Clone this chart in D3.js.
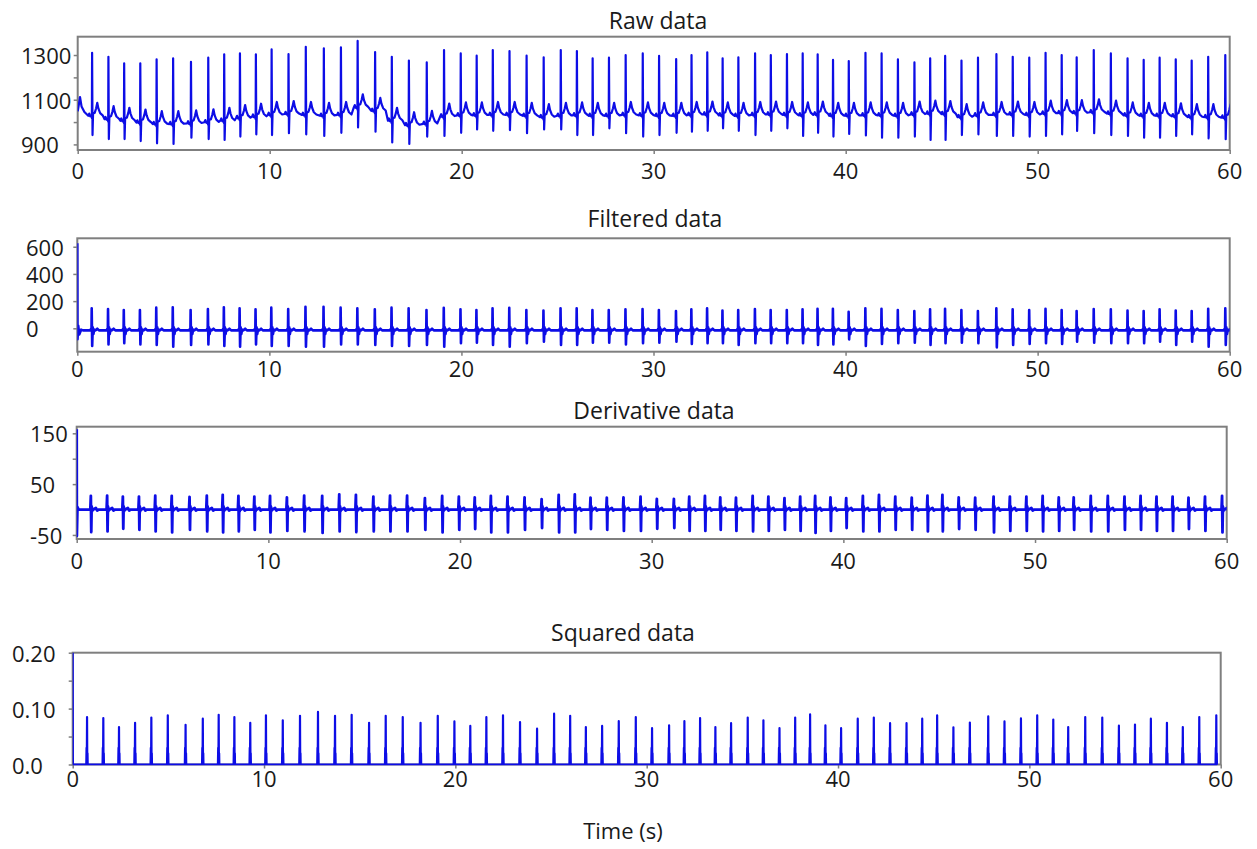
<!DOCTYPE html>
<html>
<head>
<meta charset="utf-8">
<script src="https://cdn.jsdelivr.net/npm/d3@7"></script>
<style>
  body { margin: 0; background: #fff; }
  text { font-family: "Open Sans", sans-serif; fill: #1a1a1a; }
</style>
</head>
<body>
<div id="chart"></div>
<script>
// beat times in seconds
const beatTimes = [0.75, 1.6, 2.42, 3.26, 4.11, 4.97, 5.9, 6.8, 7.63, 8.45,
  9.28, 10.1, 10.98, 11.88, 12.82, 13.71, 14.58, 15.49, 16.36, 17.25,
  18.18, 19.08, 19.95, 20.78, 21.62, 22.49, 23.38, 24.27, 25.16, 26.0,
  26.82, 27.67, 28.54, 29.43, 30.28, 31.17, 31.97, 32.79, 33.59, 34.41,
  35.28, 36.1, 36.94, 37.76, 38.54, 39.34, 40.16, 41.03, 41.87, 42.72,
  43.58, 44.4, 45.18, 46.03, 46.89, 47.85, 48.7, 49.56, 50.41, 51.25,
  52.03, 52.92, 53.81, 54.68, 55.52, 56.35, 57.19, 58.02, 58.88, 59.77];

// raw data: R peak, S trough and baseline level of each beat
const rawPeak = [1310, 1292, 1263, 1263, 1281, 1285, 1270, 1288, 1303, 1307,
  1303, 1325, 1304, 1337, 1330, 1334, 1363, 1313, 1292, 1275,
  1267, 1322, 1307, 1297, 1322, 1318, 1297, 1290, 1322, 1318,
  1285, 1288, 1300, 1307, 1296, 1282, 1300, 1312, 1285, 1290,
  1307, 1300, 1304, 1307, 1303, 1278, 1273, 1310, 1307, 1281,
  1267, 1285, 1296, 1275, 1288, 1304, 1292, 1288, 1310, 1300,
  1290, 1322, 1307, 1285, 1278, 1288, 1281, 1275, 1292, 1300];
const rawTrough = [942, 924, 924, 915, 905, 902, 930, 924, 920, 935,
  945, 942, 950, 945, 938, 952, 976, 957, 909, 902,
  935, 938, 952, 967, 961, 964, 950, 967, 967, 942,
  942, 972, 950, 935, 942, 952, 957, 961, 972, 961,
  942, 961, 972, 938, 952, 935, 947, 940, 930, 930,
  935, 920, 920, 942, 945, 938, 938, 935, 938, 945,
  960, 950, 942, 938, 930, 930, 938, 945, 927, 923];
const rawBase = [1024, 1009, 1002, 994, 987, 987, 990, 995, 1002, 1014,
  1020, 1028, 1032, 1028, 1024, 1028, 1062, 1046, 1002, 982,
  988, 1021, 1026, 1026, 1028, 1028, 1024, 1018, 1024, 1026,
  1024, 1024, 1028, 1026, 1024, 1024, 1028, 1030, 1026, 1024,
  1028, 1030, 1028, 1026, 1030, 1024, 1024, 1026, 1026, 1024,
  1030, 1034, 1032, 1018, 1026, 1028, 1030, 1028, 1034, 1036,
  1036, 1040, 1034, 1026, 1024, 1024, 1022, 1018, 1018, 1016];

// filtered data
const filtPeak = [147, 142, 135, 135, 152, 154, 135, 142, 154, 147,
  140, 152, 142, 159, 159, 152, 147, 140, 152, 147,
  135, 151, 140, 135, 147, 151, 135, 130, 147, 147,
  135, 135, 140, 142, 135, 127, 140, 147, 130, 135,
  142, 135, 135, 140, 144, 144, 122, 147, 144, 135,
  127, 140, 144, 135, 127, 147, 140, 135, 144, 135,
  127, 142, 140, 130, 127, 140, 130, 127, 144, 147];
const filtTrough = [-130, -118, -110, -118, -123, -135, -123, -118, -130, -135,
  -118, -130, -130, -135, -135, -118, -118, -123, -130, -130,
  -123, -135, -110, -106, -123, -135, -110, -98, -123, -123,
  -106, -106, -118, -110, -106, -98, -115, -110, -110, -123,
  -110, -110, -110, -110, -123, -118, -81, -130, -115, -110,
  -106, -123, -110, -106, -110, -140, -123, -115, -110, -115,
  -98, -106, -110, -110, -110, -98, -123, -98, -135, -123];
const filtBase = -15;

// derivative data
const derivPeak = [27, 27.5, 25.5, 25.5, 27.5, 27, 25, 27.5, 29, 27,
  25.5, 27, 24, 27.5, 27, 30, 29, 25.5, 27.5, 27.5,
  22.5, 27, 25.5, 24, 27, 25.5, 24, 20.5, 29, 30,
  23.5, 23.5, 24, 25.5, 21, 21, 25.5, 27, 24, 23.5,
  27, 25.5, 22.5, 25.5, 27, 24, 22.5, 27, 29, 25.5,
  23.5, 27.5, 29, 24, 23.5, 25.5, 25.5, 25.5, 27, 24,
  24, 27, 27, 25.5, 27, 25.5, 25.5, 23.5, 25.5, 27];
const derivTrough = [-44.5, -43, -38, -40, -43, -45, -40, -43, -45, -43,
  -40, -45, -42, -43, -46, -43, -44.5, -43, -43, -43,
  -40, -45, -40, -38.5, -45, -45, -40, -36.5, -45, -45,
  -38.5, -40, -42, -42, -38, -36.5, -42, -42, -40, -42,
  -43, -42, -40, -42, -46, -42, -36.5, -43, -43, -40,
  -40, -43, -43, -38.5, -40, -45, -42, -42, -43, -42,
  -40, -43, -43, -40, -40, -42, -42, -38.5, -42, -45];

// squared data
const sqPeak = [0.085, 0.083, 0.067, 0.0745, 0.084, 0.088, 0.071, 0.082, 0.089, 0.085,
  0.0745, 0.088, 0.079, 0.087, 0.094, 0.087, 0.089, 0.0745, 0.087, 0.085,
  0.0745, 0.087, 0.077, 0.069, 0.085, 0.088, 0.076, 0.064, 0.091, 0.087,
  0.067, 0.069, 0.0775, 0.085, 0.065, 0.07, 0.0775, 0.083, 0.067, 0.074,
  0.084, 0.079, 0.065, 0.084, 0.0895, 0.07, 0.065, 0.082, 0.084, 0.074,
  0.074, 0.082, 0.088, 0.0665, 0.075, 0.086, 0.077, 0.0825, 0.088, 0.0805,
  0.067, 0.085, 0.084, 0.0695, 0.0715, 0.082, 0.0745, 0.067, 0.085, 0.088];

// beat shapes: [offset from R (s), value relative to baseline] ; "R"/"S" take the beat's peak/trough
const rawShape = [[-0.2, 4], [-0.15, 14], [-0.1, 2], [-0.03, 0], [-0.012, -6], [0, "R"], [0.022, "S"],
  [0.05, 14], [0.14, 18], [0.21, 38], [0.27, 62], [0.33, 36], [0.42, 16], [0.55, 6]];
const filtShape = [[-0.08, 0], [-0.03, 12], [-0.012, 0], [0, "R"], [0.025, "S"], [0.055, 22],
  [0.09, -28], [0.13, 6], [0.2, 0], [0.29, 12], [0.38, 0]];
const derivShape = [[-0.04, 0], [-0.012, "R"], [0.01, "S"], [0.03, 6], [0.05, -4], [0.08, 2],
  [0.12, 0], [0.25, 3], [0.32, -2], [0.4, 0]];
const sqShape = [[-0.04, 0], [-0.026, 0.03], [-0.014, 0], [0, "R"], [0.012, 0], [0.024, 0.02], [0.034, 0]];

// start of each record (transient before the first beat)
const rawStart = [[0, 1048], [0.06, 1078], [0.12, 1112], [0.2, 1070], [0.35, 1045]];
const filtStart = [[0, 625], [0.01, -80], [0.05, 18], [0.1, -45], [0.2, -10], [0.3, -15]];
const derivStart = [[0, 158], [0.008, -52], [0.04, 5], [0.1, 0]];
const sqStart = [[0, 0.2], [0.01, 0], [0.3, 0]];

// axis ticks
const timeTicks = [0, 10, 20, 30, 40, 50, 60];
const rawLabels = [1300, 1100, 900];
const rawMinor = [900, 1000, 1100, 1200, 1300];
const filtLabels = [600, 400, 200, 0];
const derivLabels = [150, 50, -50];
const derivMinor = [150, 100, 50, -50];
const sqLabels = [0.2, 0.1, 0.0];
const sqMinor = [0, 0.05, 0.1, 0.15, 0.2];

function buildSeries(start, shape, peaks, troughs, base) {
  const pts = start.slice();
  beatTimes.forEach((t, i) => {
    const b = Array.isArray(base) ? base[i] : base;
    shape.forEach(([dt, v]) => {
      const y = v === "R" ? peaks[i] : v === "S" ? (troughs ? troughs[i] : b) : b + v;
      pts.push([t + dt, y]);
    });
  });
  return pts.sort((a, b) => a[0] - b[0]);
}

const panels = [
  { title: "Raw data", tx: 658, ty: 20, x0: 77.7, x1: 1229.7, top: 36.7, bottom: 150,
    domain: [875, 1382], labels: rawLabels, minor: rawMinor, fmt: d => String(d), lx: 21, xl: 19.5, sw: 2.2,
    data: buildSeries(rawStart, rawShape, rawPeak, rawTrough, rawBase) },
  { title: "Filtered data", tx: 655, ty: 218, x0: 77.3, x1: 1229.7, top: 238.3, bottom: 351.7,
    domain: [-172, 662], labels: filtLabels, minor: filtLabels, fmt: d => String(d), lx: 26, xl: 16, sw: 2.6,
    data: buildSeries(filtStart, filtShape, filtPeak, filtTrough, filtBase) },
  { title: "Derivative data", tx: 654, ty: 410, x0: 76.7, x1: 1226.7, top: 426.7, bottom: 539,
    domain: [-58, 163], labels: derivLabels, minor: derivMinor, fmt: d => String(d), lx: 30, xl: 21, sw: 2.8,
    data: buildSeries(derivStart, derivShape, derivPeak, derivTrough, 0) },
  { title: "Squared data", tx: 623, ty: 632, x0: 72.7, x1: 1220.7, top: 652.7, bottom: 764.5,
    domain: [0, 0.2], labels: sqLabels, minor: sqMinor, fmt: d => d === 0 ? "0.0" : d3.format(".2f")(d), lx: 12, xl: 13, sw: 2.2,
    data: buildSeries(sqStart, sqShape, sqPeak, null, 0) }
];

const svg = d3.select("#chart").append("svg")
  .attr("width", 1257)
  .attr("height", 849);

panels.forEach((p, k) => {
  const x = d3.scaleLinear().domain([0, 60]).range([p.x0, p.x1]);
  const y = d3.scaleLinear().domain(p.domain).range([p.bottom, p.top]);
  const g = svg.append("g");

  g.append("clipPath").attr("id", "clip" + k)
    .append("rect")
      .attr("x", p.x0).attr("y", p.top - 1)
      .attr("width", p.x1 - p.x0).attr("height", p.bottom - p.top + 2);

  // left ticks
  g.append("g")
    .attr("transform", `translate(${p.x0},0)`)
    .call(d3.axisLeft(y).tickValues(p.minor).tickSize(4).tickFormat(""))
    .call(a => a.select(".domain").remove())
    .call(a => a.selectAll(".tick line").attr("stroke", "#7f7f7f").attr("stroke-width", 1.5));

  // bottom ticks
  g.append("g")
    .attr("transform", `translate(0,${p.bottom})`)
    .call(d3.axisBottom(x).tickValues(timeTicks).tickSize(4).tickFormat(""))
    .call(a => a.select(".domain").remove())
    .call(a => a.selectAll(".tick line").attr("stroke", "#7f7f7f").attr("stroke-width", 1.5));

  // frame
  g.append("rect")
    .attr("x", p.x0).attr("y", p.top)
    .attr("width", p.x1 - p.x0).attr("height", p.bottom - p.top)
    .attr("fill", "none")
    .attr("stroke", "#7f7f7f")
    .attr("stroke-width", 2);

  // trace
  const line = d3.line().x(d => x(d[0])).y(d => y(d[1]));
  g.append("path")
    .datum(p.data)
    .attr("clip-path", `url(#clip${k})`)
    .attr("fill", "none")
    .attr("stroke", "#0d0de6")
    .attr("stroke-width", p.sw)
    .attr("stroke-linejoin", "round")
    .attr("d", line);

  // y labels (left aligned)
  g.selectAll(".ylab")
    .data(p.labels)
    .join("text")
      .attr("x", p.lx)
      .attr("y", d => y(d))
      .attr("dominant-baseline", "central")
      .style("font-size", "22px")
      .text(p.fmt);

  // x labels
  g.selectAll(".xlab")
    .data(timeTicks)
    .join("text")
      .attr("x", d => x(d))
      .attr("y", p.bottom + p.xl)
      .attr("text-anchor", "middle")
      .attr("dominant-baseline", "central")
      .style("font-size", "22px")
      .text(d => d);

  svg.append("text")
    .attr("x", p.tx)
    .attr("y", p.ty)
    .attr("text-anchor", "middle")
    .attr("dominant-baseline", "central")
    .style("font-size", "23px")
    .text(p.title);
});

svg.append("text")
  .attr("x", 623)
  .attr("y", 830)
  .attr("text-anchor", "middle")
  .attr("dominant-baseline", "central")
  .style("font-size", "22px")
  .text("Time (s)");
</script>
</body>
</html>
